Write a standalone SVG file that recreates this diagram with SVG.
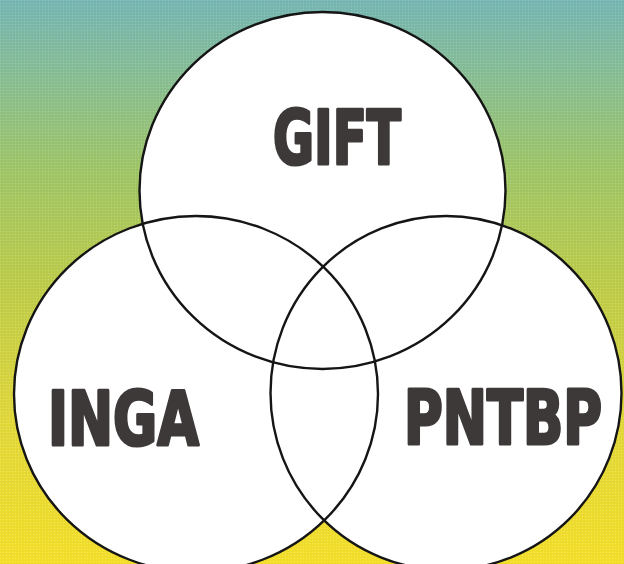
<svg xmlns="http://www.w3.org/2000/svg" width="624" height="564" viewBox="0 0 624 564">
  <defs>
    <linearGradient id="bg" x1="0" y1="0" x2="0" y2="1">
      <stop offset="0" stop-color="#76b6b4"/>
      <stop offset="0.12" stop-color="#86bd98"/>
      <stop offset="0.3" stop-color="#9fc668"/>
      <stop offset="0.5" stop-color="#bdcc4a"/>
      <stop offset="0.75" stop-color="#e2d83a"/>
      <stop offset="1" stop-color="#f4df2a"/>
    </linearGradient>
    <pattern id="dots" width="3" height="3" patternUnits="userSpaceOnUse">
      <rect x="0" y="0" width="1" height="1" fill="#ffffff" fill-opacity="0.18"/>
      <rect x="1.5" y="1.5" width="1" height="1" fill="#000000" fill-opacity="0.06"/>
    </pattern>
  </defs>
  <style>
    .fill { fill: #ffffff; stroke: none; }
    .ring { fill: none; stroke: #151515; stroke-width: 2.4; }
    .label { font-family: "Liberation Sans Narrow", "DejaVu Sans Condensed", "Liberation Sans", sans-serif; font-weight: bold; font-size: 62px; fill: #3e3939; stroke: #3e3939; stroke-width: 2.6; stroke-linejoin: round; text-anchor: middle; }
  </style>
  <rect x="0" y="0" width="624" height="564" fill="url(#bg)"/>
  <rect x="0" y="0" width="624" height="564" fill="url(#dots)"/>
  <g id="fills">
    <ellipse class="fill" cx="322.5" cy="190.5" rx="183" ry="178.5"/>
    <ellipse class="fill" cx="196" cy="394" rx="182" ry="178"/>
    <ellipse class="fill" cx="446" cy="393" rx="175.5" ry="177"/>
  </g>
  <g id="gift">
    <ellipse class="ring" cx="322.5" cy="190.5" rx="183" ry="178.5"/>
    <text class="label" transform="translate(337 164) scale(1 1.21)" x="0" y="0" textLength="128" lengthAdjust="spacingAndGlyphs">GIFT</text>
  </g>
  <g id="inga">
    <ellipse class="ring" cx="196" cy="394" rx="182" ry="178"/>
    <text class="label" transform="translate(123.5 445) scale(1 1.21)" x="0" y="0" textLength="151" lengthAdjust="spacingAndGlyphs">INGA</text>
  </g>
  <g id="pntbp">
    <ellipse class="ring" cx="446" cy="393" rx="175.5" ry="177"/>
    <text class="label" transform="translate(503 444) scale(1 1.21)" x="0" y="0" textLength="198" lengthAdjust="spacingAndGlyphs">PNTBP</text>
  </g>
  <g id="connectors"></g>
</svg>
